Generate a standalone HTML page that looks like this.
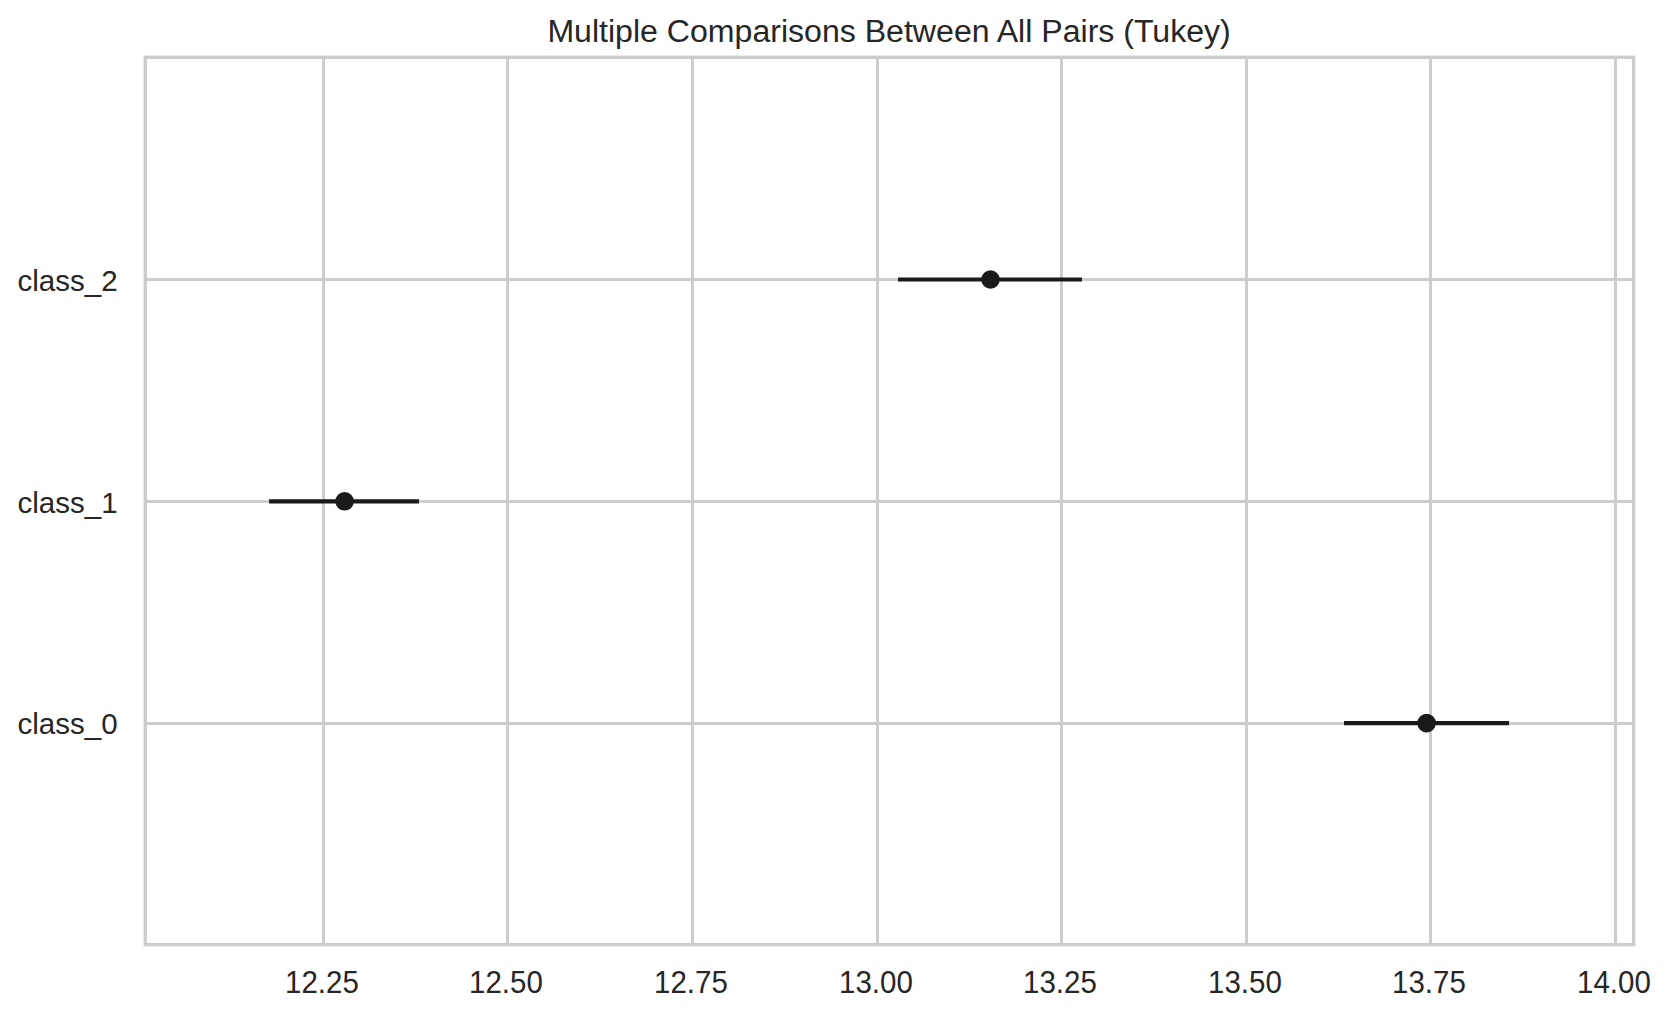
<!DOCTYPE html>
<html><head><meta charset="utf-8"><title>Multiple Comparisons Between All Pairs (Tukey)</title>
<style>
html,body{margin:0;padding:0;background:#fff;}
body{width:1670px;height:1017px;overflow:hidden;}
svg{display:block;}
text{font-family:"Liberation Sans",Arial,sans-serif;fill:#262626;}
.t{font-size:29.5px;}
.ttl{font-size:32.1px;}
</style></head><body>
<svg width="1670" height="1017" viewBox="0 0 1670 1017">
<rect width="1670" height="1017" fill="#ffffff"/>
<g fill="#cdcdcd" shape-rendering="crispEdges">
<rect x="322" y="57.3" width="3" height="887.4"/>
<rect x="506" y="57.3" width="3" height="887.4"/>
<rect x="691" y="57.3" width="3" height="887.4"/>
<rect x="876" y="57.3" width="3" height="887.4"/>
<rect x="1060" y="57.3" width="3" height="887.4"/>
<rect x="1245" y="57.3" width="3" height="887.4"/>
<rect x="1429" y="57.3" width="3" height="887.4"/>
<rect x="1614" y="57.3" width="3" height="887.4"/>
<rect x="145.3" y="278" width="1488.4" height="3"/>
<rect x="145.3" y="500" width="1488.4" height="3"/>
<rect x="145.3" y="722" width="1488.4" height="3"/>
</g>
<g stroke="#1a1a1a" stroke-width="4.17">
<line x1="898.05" y1="279.5" x2="1081.95" y2="279.5"/>
<line x1="269.1" y1="501.3" x2="419.0" y2="501.3"/>
<line x1="1344.0" y1="723.1" x2="1509.0" y2="723.1"/>
</g>
<g fill="#1a1a1a">
<circle cx="990.5" cy="279.5" r="9.3"/>
<circle cx="344.6" cy="501.3" r="9.3"/>
<circle cx="1426.6" cy="723.1" r="9.3"/>
</g>
<rect x="145.3" y="57.3" width="1488.4" height="887.4" fill="none" stroke="#cccccc" stroke-width="3.4"/>
<text class="ttl" x="889.1" y="41.8" text-anchor="middle">Multiple Comparisons Between All Pairs (Tukey)</text>
<text class="t" transform="translate(321.90 992.8) scale(1 1.045)" text-anchor="middle">12.25</text>
<text class="t" transform="translate(505.90 992.8) scale(1 1.045)" text-anchor="middle">12.50</text>
<text class="t" transform="translate(690.90 992.8) scale(1 1.045)" text-anchor="middle">12.75</text>
<text class="t" transform="translate(875.90 992.8) scale(1 1.045)" text-anchor="middle">13.00</text>
<text class="t" transform="translate(1059.90 992.8) scale(1 1.045)" text-anchor="middle">13.25</text>
<text class="t" transform="translate(1244.90 992.8) scale(1 1.045)" text-anchor="middle">13.50</text>
<text class="t" transform="translate(1428.90 992.8) scale(1 1.045)" text-anchor="middle">13.75</text>
<text class="t" transform="translate(1613.90 992.8) scale(1 1.045)" text-anchor="middle">14.00</text>
<text class="t" x="117.6" y="290.80" text-anchor="end">class_2</text>
<text class="t" x="117.6" y="512.60" text-anchor="end">class_1</text>
<text class="t" x="117.6" y="734.40" text-anchor="end">class_0</text>
</svg></body></html>
